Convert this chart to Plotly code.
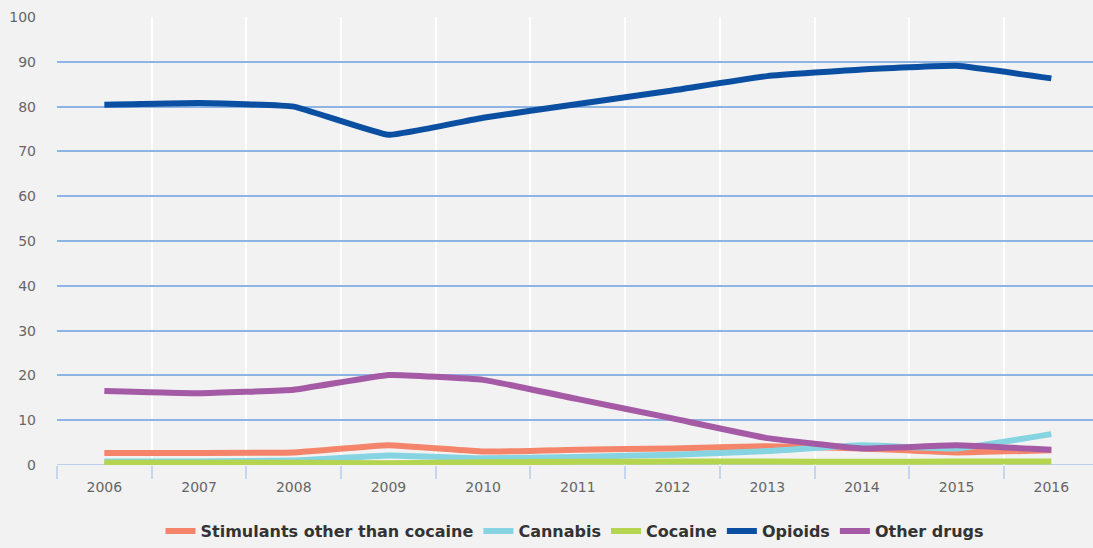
import plotly.graph_objects as go

years = [2006, 2007, 2008, 2009, 2010, 2011, 2012, 2013, 2014, 2015, 2016]

stimulants = [2.7, 2.7, 2.8, 4.4, 3.0, 3.4, 3.7, 4.2, 3.7, 2.8, 3.3]
cannabis = [0.8, 0.8, 1.0, 2.1, 1.5, 1.8, 2.3, 3.1, 4.4, 3.7, 6.9]
cocaine = [0.5, 0.5, 0.5, 0.4, 0.6, 0.7, 0.8, 0.8, 0.7, 0.8, 0.8]
opioids = [80.4, 80.8, 80.0, 73.7, 77.5, 80.6, 83.6, 86.8, 88.3, 89.1, 86.3]
other_drugs = [16.5, 16.0, 16.8, 20.1, 19.0, 14.7, 10.4, 6.0, 3.7, 4.4, 3.4]

series = [
    ("Stimulants other than cocaine", stimulants, "#f4856a"),
    ("Cannabis", cannabis, "#86d3e1"),
    ("Cocaine", cocaine, "#b5d550"),
    ("Opioids", opioids, "#0b4fa2"),
    ("Other drugs", other_drugs, "#a55aa6"),
]

fig = go.Figure()
for name, vals, color in series:
    fig.add_trace(go.Scatter(
        x=years, y=vals, name=name, mode="lines",
        line=dict(color=color, width=6, shape="spline", smoothing=0.3),
    ))

fig.update_layout(
    width=1093, height=548,
    margin=dict(l=57, r=0, t=17, b=82),
    paper_bgcolor="#f2f2f2",
    plot_bgcolor="#f2f2f2",
    font=dict(family="DejaVu Sans", color="#666666", size=14),
    showlegend=True,
    legend=dict(
        orientation="h", x=0.5, xanchor="center", y=-0.147, yanchor="middle",
        font=dict(family="DejaVu Sans", size=16, color="#333333", weight="bold"),
        itemwidth=30, tracegroupgap=0,
    ),
    xaxis=dict(
        range=[2005.5, 2016.44],
        tickvals=years,
        ticktext=[str(y) for y in years],
        ticks="",
        showgrid=False,
        zeroline=False,
        showline=False,
        tickfont=dict(size=14, color="#666666"),
        ticklabelstandoff=12,
        minor=dict(
            tick0=2005.5, dtick=1, showgrid=True, gridcolor="#ffffff", gridwidth=1.5,
            ticks="outside", ticklen=13, tickcolor="#c5d6ee", tickwidth=1.5,
        ),
    ),
    yaxis=dict(
        range=[0, 100],
        tickvals=list(range(0, 101, 10)),
        showgrid=True, gridcolor="#8db4e2", gridwidth=1.5,
        zeroline=False,
        showline=False,
        ticks="",
        tickfont=dict(size=14, color="#666666"),
        ticklabelstandoff=20,
    ),
    shapes=[dict(type="line", xref="paper", yref="y", x0=0, x1=1, y0=0, y1=0,
                 line=dict(color="#a9c4e8", width=1.5), layer="below")],
)

fig.write_html("out.html")
